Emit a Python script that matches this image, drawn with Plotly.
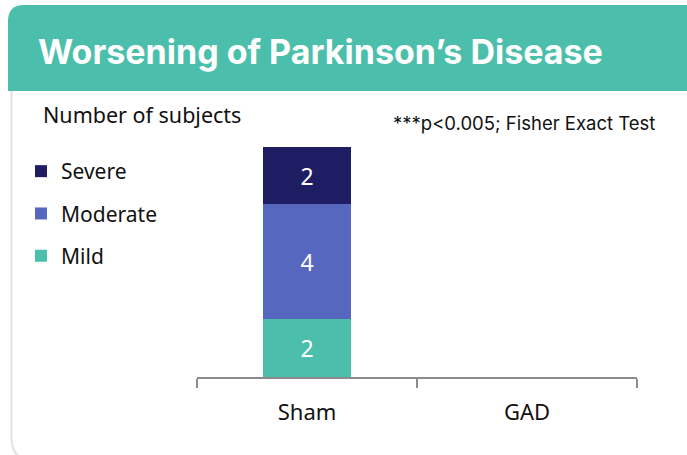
import plotly.graph_objects as go

# Data
groups = ["Sham", "GAD"]
mild = [2, 0]
moderate = [4, 0]
severe = [2, 0]
series_names = ["Mild", "Moderate", "Severe"]
series_colors = ["#4BBFAB", "#5667C0", "#1F1E64"]

W, H = 687, 455
ML, MR, MT, MB = 197, 50, 118, 78
PW, PH = W - ML - MR, H - MT - MB


def px_x(p):
    return (p - ML) / PW


def px_y(p):
    return (H - MB - p) / PH


fig = go.Figure()
n = len(series_names)
for i, (name, vals, col) in enumerate(zip(series_names, [mild, moderate, severe], series_colors)):
    fig.add_trace(go.Bar(
        x=groups, y=vals, name=name, marker=dict(color=col, line=dict(width=0)),
        text=[str(v) if v else "" for v in vals], textposition="inside",
        insidetextanchor="middle", textangle=0,
        textfont=dict(color="white", size=23, family="Noto Sans"),
        width=0.4, legendgroup=name, legendrank=n - i,
    ))

shapes = [
    # header band with rounded top-left corner
    dict(type="path", xref="paper", yref="paper", layer="below",
         path=(f"M {px_x(8)},{px_y(91)} L {px_x(8)},{px_y(21)} "
               f"Q {px_x(8)},{px_y(5)} {px_x(24)},{px_y(5)} "
               f"L {px_x(690)},{px_y(5)} L {px_x(690)},{px_y(91)} Z"),
         fillcolor="#4BBFAB", line=dict(width=0)),
    # card border on the left with rounded bottom corner
    dict(type="path", xref="paper", yref="paper", layer="below",
         path=(f"M {px_x(11.5)},{px_y(91)} L {px_x(11.5)},{px_y(438)} "
               f"Q {px_x(11.5)},{px_y(460)} {px_x(33)},{px_y(460)} L {px_x(700)},{px_y(460)}"),
         line=dict(color="#E2E2E2", width=2)),
]

annotations = [
    dict(text="<b>Worsening of Parkinson\u2019s Disease</b>", xref="paper", yref="paper",
         x=px_x(36), y=px_y(51), xanchor="left", yanchor="middle", showarrow=False,
         font=dict(family="Inter", size=34, color="white")),
    dict(text="Number of subjects", xref="paper", yref="paper",
         x=px_x(41), y=px_y(114.5), xanchor="left", yanchor="middle", showarrow=False,
         font=dict(family="Noto Sans", size=21.5, color="#111111")),
    dict(text="***p<0.005; Fisher Exact Test", xref="paper", yref="paper",
         x=px_x(391), y=px_y(123), xanchor="left", yanchor="middle", showarrow=False,
         font=dict(family="Inter", size=18.5, color="#111111")),
]

fig.update_layout(
    width=W, height=H, margin=dict(l=ML, r=MR, t=MT, b=MB),
    paper_bgcolor="white", plot_bgcolor="white",
    barmode="stack", bargap=0.6,
    showlegend=True,
    legend=dict(traceorder="grouped", tracegroupgap=12,
                x=px_x(21), y=px_y(151), xanchor="left", yanchor="top",
                font=dict(family="Noto Sans", size=21, color="#111111"),
                bgcolor="rgba(0,0,0,0)", itemclick=False),
    xaxis=dict(showline=True, linecolor="#8C8C8C", linewidth=2,
               ticks="outside", tickson="boundaries", ticklen=9, tickwidth=2,
               tickcolor="#8C8C8C", showgrid=False,
               tickfont=dict(family="Noto Sans", size=22, color="#111111"),
               ticklabelstandoff=15, fixedrange=True),
    yaxis=dict(range=[0, 9], visible=False, fixedrange=True),
    shapes=shapes, annotations=annotations,
)

fig.write_html("out.html")
